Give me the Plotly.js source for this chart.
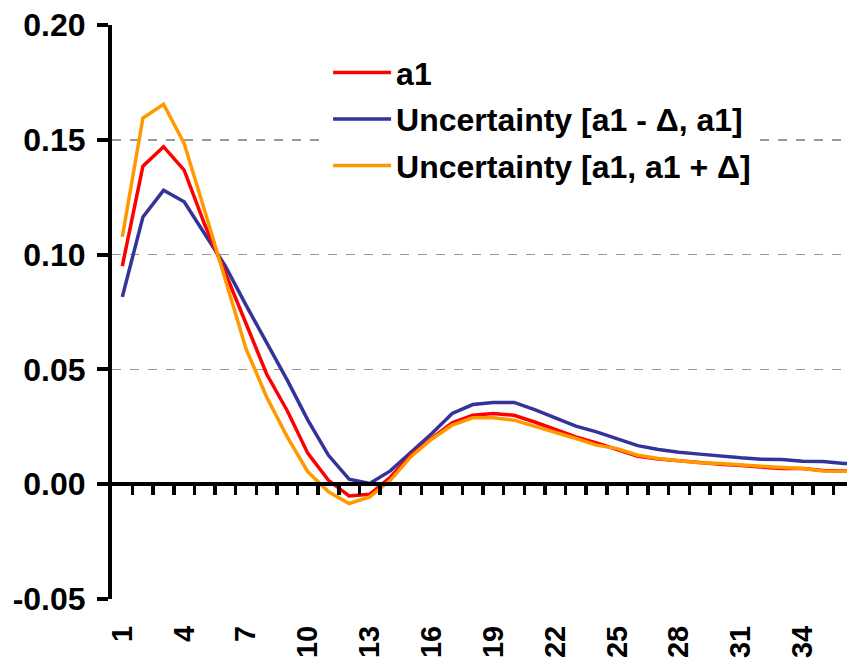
<!DOCTYPE html>
<html>
<head>
<meta charset="utf-8">
<script src="https://cdn.plot.ly/plotly-3.0.1.min.js"></script>
<style>html,body{margin:0;padding:0;background:#fff;}</style>
</head>
<body>
<div id="chart" style="width:847px;height:661px;"></div>
<script>
// Categories (lag index)
const categories = Array.from({length: 37}, (_, i) => i + 1);
const tickLabels = [1, 4, 7, 10, 13, 16, 19, 22, 25, 28, 31, 34, 37];

// Series values
const a1 = [0.095, 0.1385, 0.147, 0.1368, 0.113, 0.092, 0.070, 0.048, 0.032, 0.0134,
  0.0017, -0.0051, -0.0044, 0.003, 0.0126, 0.020, 0.0267, 0.030, 0.0308, 0.030,
  0.0271, 0.024, 0.0206, 0.018, 0.0152, 0.0122, 0.011, 0.0102, 0.0093, 0.0087,
  0.0081, 0.0073, 0.0068, 0.0068, 0.006, 0.0058, 0.0057];
const lower = [0.0816, 0.1164, 0.128, 0.123, 0.109, 0.095, 0.078, 0.0614, 0.0453, 0.0279,
  0.0126, 0.0022, 0.0003, 0.0058, 0.014, 0.022, 0.0308, 0.0347, 0.0356, 0.0356,
  0.0325, 0.0289, 0.0253, 0.0228, 0.0199, 0.0168, 0.0151, 0.0139, 0.0131, 0.0122,
  0.0115, 0.0109, 0.0108, 0.010, 0.0099, 0.009, 0.0088];
const upper = [0.1077, 0.1595, 0.1655, 0.1484, 0.119, 0.089, 0.059, 0.038, 0.0206, 0.0054,
  -0.0033, -0.0084, -0.0055, 0.0017, 0.012, 0.0196, 0.0257, 0.0289, 0.0289, 0.0279,
  0.0253, 0.0228, 0.0199, 0.017, 0.0155, 0.0126, 0.0112, 0.0102, 0.0093, 0.009,
  0.0083, 0.0078, 0.0073, 0.0068, 0.0058, 0.0058, 0.0056];

const names = ['a1', 'Uncertainty [a1 - \u0394, a1]', 'Uncertainty [a1, a1 + \u0394]'];
const colors = ['#FF0000', '#333399', '#FF9900'];

const font = {family: '"Liberation Sans", Arial, sans-serif', color: '#000', weight: 'bold'};
const boundaries = categories.map(c => c + 0.5);
const xRange = [0.5, 36.15];

const tBlue = {x: categories, y: lower, type: 'scatter', mode: 'lines', name: names[1],
  line: {color: colors[1], width: 3.5}, legendgroup: 'g1', legendrank: 2};
const tRed = {x: categories, y: a1, type: 'scatter', mode: 'lines', name: names[0],
  line: {color: colors[0], width: 3.5}, legendgroup: 'g0', legendrank: 1};
const tOrange = {x: categories, y: upper, type: 'scatter', mode: 'lines', name: names[2],
  line: {color: colors[2], width: 3.5}, legendgroup: 'g2', legendrank: 3, xaxis: 'x2'};

const data = [tBlue, tRed, tOrange];

const layout = {
  width: 847, height: 661,
  margin: {l: 112, r: 0, t: 25, b: 62},
  paper_bgcolor: '#fff', plot_bgcolor: '#fff',
  showlegend: true,
  legend: {
    x: 0.294, y: 0.965, xanchor: 'left', yanchor: 'top',
    bgcolor: '#fff', borderwidth: 0,
    font: Object.assign({}, font, {size: 32}),
    traceorder: 'grouped', tracegroupgap: 2, itemwidth: 58
  },
  xaxis: {
    type: 'linear', range: xRange, showgrid: false, zeroline: false,
    showline: false, ticks: '', tickmode: 'array', tickvals: tickLabels,
    ticktext: tickLabels.map(String), tickangle: -90,
    tickfont: Object.assign({}, font, {size: 29}), ticklabelstandoff: 20
  },
  xaxis2: {
    type: 'linear', range: xRange, overlaying: 'x', anchor: 'free', position: 0.2,
    side: 'bottom', showgrid: false, zeroline: false, showline: true,
    linecolor: '#000', linewidth: 4, ticks: 'outside', ticklen: 9, tickwidth: 3.5,
    tickcolor: '#000', tickmode: 'array', tickvals: boundaries, showticklabels: false
  },
  yaxis: {
    range: [-0.05, 0.20], tickmode: 'array', tickvals: [-0.05, 0, 0.05, 0.10, 0.15, 0.20],
    ticktext: ['-0.05', '0.00', '0.05', '0.10', '0.15', '0.20'],
    showgrid: true, gridcolor: '#999', griddash: 'dash', gridwidth: 1.5,
    zeroline: false, showline: true, linecolor: '#000', linewidth: 4,
    ticks: 'outside', ticklen: 11, tickwidth: 4, tickcolor: '#000',
    tickfont: Object.assign({}, font, {size: 32}), ticklabelstandoff: 5
  }
};

Plotly.newPlot('chart', data, layout, {displayModeBar: false, staticPlot: true});
</script>
</body>
</html>
